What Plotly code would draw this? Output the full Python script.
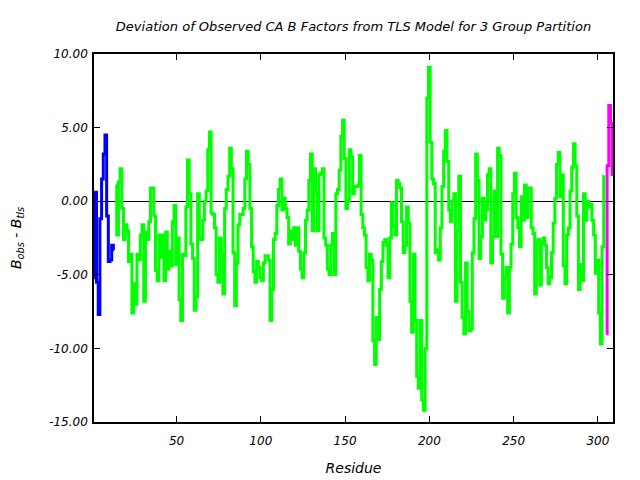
import plotly.graph_objects as go

# residue ranges for the three TLS groups
blue_res = list(range(1, 14))
blue_dev = [-5.2, 0.6, -5.5, -7.7, -1.2, 1.5, 3.2, 4.5, -1.0, -4.1, -4.0, -3.0, -3.3]

green_res = list(range(14, 305))
green_dev = [
    1.1, -2.3, 1.3, 2.2, -0.5, -2.6, -1.6, -2.0, -4.1, -3.6,
    -7.6, -5.6, -7.0, -3.6, -4.0, -2.3, -1.6, -6.8, -2.1, -2.6,
    -1.4, 0.9, 0.9, -1.0, -4.7, -5.4, -2.3, -3.8, -2.3, -5.4,
    -2.1, -4.6, -3.4, -4.4, -1.4, -0.3, -4.3, -2.5, -6.7, -8.1,
    -3.6, -3.7, -0.4, 2.8, 0.5, -2.9, -3.9, -7.4, -6.5, 0.5,
    -2.5, -2.6, -1.3, 0.0, 0.7, 3.5, 4.7, -0.8, -0.9, -1.8,
    -5.0, -5.5, -2.5, -3.5, -6.3, -0.5, 0.8, 1.7, 3.6, 2.2,
    -3.5, -7.1, -4.2, -1.6, -0.9, -0.9, -0.5, 1.5, 3.4, 2.5,
    -0.5, -3.1, -4.8, -5.5, -4.1, -4.5, -5.2, -5.4, -4.2, -3.7,
    -3.7, -4.0, -8.1, -6.0, -2.6, -2.2, -0.3, 0.8, 1.5, -0.6,
    0.2, -0.5, -1.1, -2.9, -2.0, -2.6, -1.8, -3.0, -1.8, -3.4,
    -4.6, -5.2, -3.5, -1.3, -0.6, 1.4, 3.2, -2.0, 2.2, 0.6,
    -2.0, 1.8, 1.9, 2.2, -2.5, -3.0, -4.6, -5.0, -3.0, -2.2,
    -5.0, 0.5, 0.8, 2.1, 4.4, 5.5, 2.9, -0.5, 0.0, 3.5,
    3.0, 0.5, 1.0, 1.0, 1.1, 3.1, -0.9, -1.8, -2.3, -4.5,
    -5.4, -3.6, -4.0, -9.5, -11.1, -7.9, -9.4, -6.0, -4.1, -2.8,
    -2.6, -3.0, -5.2, -2.5, -0.1, -1.7, -2.3, 1.4, 1.2, 0.9,
    -1.4, -3.5, -3.0, -0.4, -1.5, -6.8, -8.9, -3.6, -8.1, -11.9,
    -12.7, -8.1, -13.5, -14.2, -10.0, 7.0, 9.1, 4.0, 1.5, 1.2,
    -3.5, -3.3, -4.0, -1.8, 1.0, 3.4, 4.8, 2.7, -0.6, -1.4,
    0.0, 0.5, -6.8, -2.0, 1.7, -5.5, -7.9, -9.0, -4.2, -7.5,
    -8.8, -8.7, -3.5, -1.2, 3.2, 1.4, -3.9, -2.4, 0.2, -1.3,
    -0.6, 1.8, 2.2, -4.2, -2.4, 0.7, -2.4, 3.6, 3.1, -3.6,
    -6.6, -5.2, -4.5, -7.6, -4.5, -2.9, 0.5, 1.9, -1.1, -1.8,
    -3.1, 0.3, -1.3, 1.1, -1.1, 0.9, 0.9, -1.8, -2.2, -6.3,
    -2.7, -2.6, -5.7, -2.8, -2.5, -3.0, -4.5, -5.6, -5.2, -3.5,
    -1.5, 0.2, 2.5, 3.3, 0.3, 1.8, -4.4, -5.6, -2.3, -1.8,
    0.7, 2.3, 3.9, 2.4, -1.0, -6.0, -4.3, -5.4, 0.5, -1.3,
    0.0, -0.4, -0.2, -1.3, -2.3, -4.9, -4.0, -7.6, -9.7, -3.1,
    1.7,
]

magenta_res = list(range(305, 310))
magenta_dev = [-9.0, 2.4, 6.5, 5.3, 1.8]

x_ticks = [50, 100, 150, 200, 250, 300]
y_ticks = [-15, -10, -5, 0, 5, 10]
y_labels = ["%.2f" % v for v in y_ticks]

fig = go.Figure()
for res, dev, color in [(blue_res, blue_dev, "#0000ff"),
                        (green_res, green_dev, "#00ff00"),
                        (magenta_res, magenta_dev, "#ff00ff")]:
    fig.add_trace(go.Scatter(x=res, y=dev, mode="lines",
                             line=dict(color=color, width=3, shape="hvh"),
                             showlegend=False))

axis_style = dict(showline=True, linecolor="black", linewidth=1.5, mirror="ticks",
                  ticks="inside", ticklen=6, tickcolor="black", showgrid=False,
                  automargin=False)

# the page body adds an 8px margin, so the figure is sized to fit inside it
fig.update_layout(
    width=632, height=472,
    margin=dict(l=86, r=27, t=46, b=58),
    paper_bgcolor="white", plot_bgcolor="white",
    font=dict(family="DejaVu Sans", size=12, color="black", style="italic"),
    title=dict(text="Deviation of Observed CA B Factors from TLS Model for 3 Group Partition",
               x=0.5, xref="paper", y=0.96, yref="container", xanchor="center",
               yanchor="middle", font=dict(size=13)),
    xaxis=dict(range=[1, 309], tickvals=x_ticks, zeroline=False, ticklabelstandoff=7,
               title=dict(text="Residue", standoff=16), **axis_style),
    yaxis=dict(range=[-15, 10], tickvals=y_ticks, ticktext=y_labels, ticklabelstandoff=2,
               zeroline=True, zerolinecolor="black", zerolinewidth=1,
               title=dict(text="<i>B</i><sub>obs</sub> - <i>B</i><sub>tls</sub>", standoff=25),
               **axis_style),
)

fig.write_html("out.html")
